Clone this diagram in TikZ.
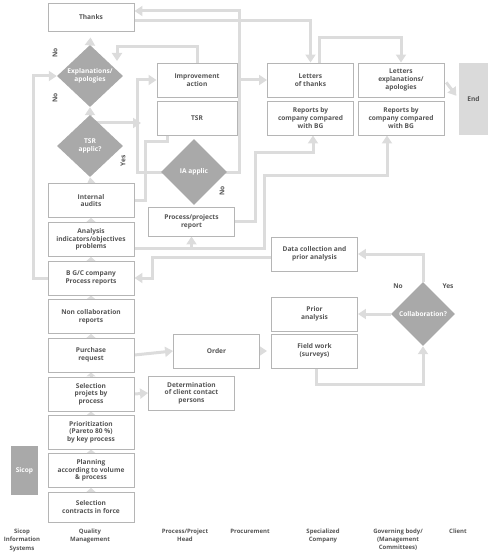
\documentclass[tikz,border=0pt]{standalone}
\usepackage{fontspec}
\setmainfont{Open Sans}
\usetikzlibrary{arrows.meta,shapes.geometric,backgrounds}
\definecolor{boxline}{HTML}{B5B5B5}
\definecolor{txtgray}{HTML}{555555}
\definecolor{decfill}{HTML}{A9A9A9}
\definecolor{flowgray}{HTML}{DCDCDC}
\definecolor{endfill}{HTML}{DADADA}

\begin{document}
\begin{tikzpicture}[x=1pt,y=-1pt,
	every node/.style={font=\fontsize{6.6}{7.6}\selectfont\bfseries,text=txtgray,align=center,inner sep=0pt},
	box/.style={draw=boxline,line width=0.9pt,fill=white,minimum width=86pt,minimum height=34pt},
	decision/.style={diamond,fill=decfill,text=white,minimum width=66pt,minimum height=62pt},
	endbox/.style={fill=endfill,minimum width=29pt,minimum height=72pt},
	sidebox/.style={fill=decfill,text=white,minimum width=27pt,minimum height=49pt},
	lane/.style={anchor=north,font=\fontsize{6}{7.8}\selectfont\bfseries},
	flow/.style={draw=flowgray,line width=3pt,-{Triangle[width=10pt,length=8pt]}},
	plain/.style={draw=flowgray,line width=3pt},
	nub/.style={draw=flowgray,line width=3pt,-{Triangle[width=9pt,length=4pt]}}]

	\useasboundingbox (0,0) rectangle (490,559);

	\node[box,minimum height=28pt] (thanks) at (91, 17)        {Thanks};
	\node[decision] (expl) at (90, 76)                         {Explanations/\\apologies};
	\node[decision] (tsrq) at (90, 146)                        {TSR\\applic?};
	\node[box] (audits) at (91, 200.5)                         {Internal\\audits};
	\node[box] (analysis) at (91, 239.5)                       {Analysis\\indicators/objectives\\problems};
	\node[box] (bgc) at (91, 278)                              {B G/C company\\Process reports};
	\node[box] (noncoll) at (91, 316.5)                        {Non collaboration\\reports};
	\node[box] (purchase) at (91, 355)                         {Purchase\\request};
	\node[box] (selproj) at (91, 394)                          {Selection\\projets by\\process};
	\node[box] (prio) at (91, 432)                             {Prioritization\\(Pareto 80 \%)\\by key process};
	\node[box] (planning) at (91, 470.5)                       {Planning\\according to volume\\\& process};
	\node[box,minimum height=30pt] (selcontr) at (91, 507)     {Selection\\contracts in force};
	\node[sidebox] (sicop) at (24.5, 470.5)                    {Sicop};

	\node[box,minimum width=80pt] (improve) at (197, 80)       {Improvement\\action};
	\node[box,minimum width=80pt] (tsr) at (197, 118)          {TSR};
	\node[decision,minimum height=66pt] (iaq) at (194, 172)    {IA applic};
	\node[box,minimum height=29pt] (ppreport) at (191.5, 221.5) {Process/projects\\report};
	\node[box] (order) at (216.5, 351)                         {Order};
	\node[box] (determ) at (191.5, 393)                        {Determination\\of client contact\\persons};

	\node[box] (lthanks) at (310.5, 80)                        {Letters\\of thanks};
	\node[box] (rep1) at (310.5, 118)                          {Reports by\\company compared\\with BG};
	\node[box] (lexpl) at (401, 80)                            {Letters\\explanations/\\apologies};
	\node[box] (rep2) at (401, 118)                            {Reports by\\company compared\\with BG};
	\node[box] (datacoll) at (314.5, 254)                      {Data collection and\\prior analysis};
	\node[box] (prior) at (314.5, 314)                         {Prior\\analysis};
	\node[box] (field) at (314.5, 351)                         {Field work\\(surveys)};
	\node[decision,minimum width=64pt,minimum height=64pt] (collab) at (423, 314) {Collaboration?};
	\node[endbox] (end) at (473.5, 99)                         {End};

	\node[rotate=90] (noa) at (55, 53)      {No};
	\node[rotate=90] (nob) at (55, 98)      {No};
	\node[rotate=90] (yesa) at (123, 161)   {Yes};
	\node[rotate=90] (noc) at (222, 191)    {No};
	\node (nod) at (398, 286)               {No};
	\node (yesb) at (448, 286)              {Yes};

	\node[lane] (lsicop) at (22, 529)       {Sicop\\Information\\[1pt]Systems};
	\node[lane] (lquality) at (90, 529)     {Quality\\Management};
	\node[lane] (lhead) at (185, 529)       {Process/Project\\Head};
	\node[lane] (lprocure) at (250, 529)    {Procurement};
	\node[lane] (lcompany) at (323, 529)    {Specialized\\Company};
	\node[lane] (lgovern) at (398, 529)     {Governing body/\\(Management\\Committees)};
	\node[lane] (lclient) at (458, 529)     {Client};

	\coordinate (explin) at (117, 61);
	\coordinate (tsrin) at (141, 123);

	\begin{scope}[on background layer]
	\draw[flow] (iaq.center) -| (239, 11) -- (thanks.east |- 0,11);
	\draw[flow] (239, 80) -- (lthanks.west);
	\draw[flow] (thanks.east |- 0,21) -| (lthanks.north);
	\draw[flow] ([xshift=8.5pt]lthanks.north) -- ++(0, -25) -| (lexpl.north);
	\draw[flow,shorten <=3pt,shorten >=4pt] (lexpl.east) -- (end.west);
	\draw[flow,shorten >=6pt] (expl.north) -- (thanks.south);
	\draw[flow] (tsrq.north) -- (expl.south);
	\draw[flow] (audits.north) -- (tsrq.south);
	\draw[flow] (improve.north) |- (117, 47) -- (explin);
	\draw[flow] (bgc.west) -| (33, 76) -- (expl.west);
	\draw[flow] (tsrq.center |- 0,123) -- (tsrin);
	\draw[flow] (iaq.center) -| (137, 80) -- (improve.west);
	\draw[plain] (audits.east) -| (145, 141) -| ([xshift=-30pt]tsr.south);
	\draw[flow] ([yshift=-8.5pt]analysis.east) -| (264, 175) -| ([xshift=-14pt]rep2.south);
	\draw[flow] (ppreport.south |- 0,248) -- (ppreport.south);
	\draw[flow] (ppreport.east) -| (255, 152) -| ([xshift=2.5pt]rep1.south);
	\draw[flow] ([yshift=-3pt]datacoll.west) -| (152, 278) -- (bgc.east);
	\draw[flow] (collab.north) |- (datacoll.east);
	\draw[flow] (collab.west) -- (prior.east);
	\draw[flow] ([xshift=1.5pt]field.south) -- ++(0, 16) -| (collab.south);
	\draw[flow] (purchase.east) -- (order.west);
	\draw[flow,shorten <=2pt,shorten >=4pt] (order.east) -- (field.west);
	\draw[flow] (selproj.east) -- (determ.west);
	\foreach \a/\b in {selcontr/planning, planning/prio, prio/selproj, selproj/purchase,
		purchase/noncoll, noncoll/bgc, bgc/analysis, analysis/audits}
		\draw[nub] (\a) -- (\b);
	\end{scope}
\end{tikzpicture}
\end{document}
